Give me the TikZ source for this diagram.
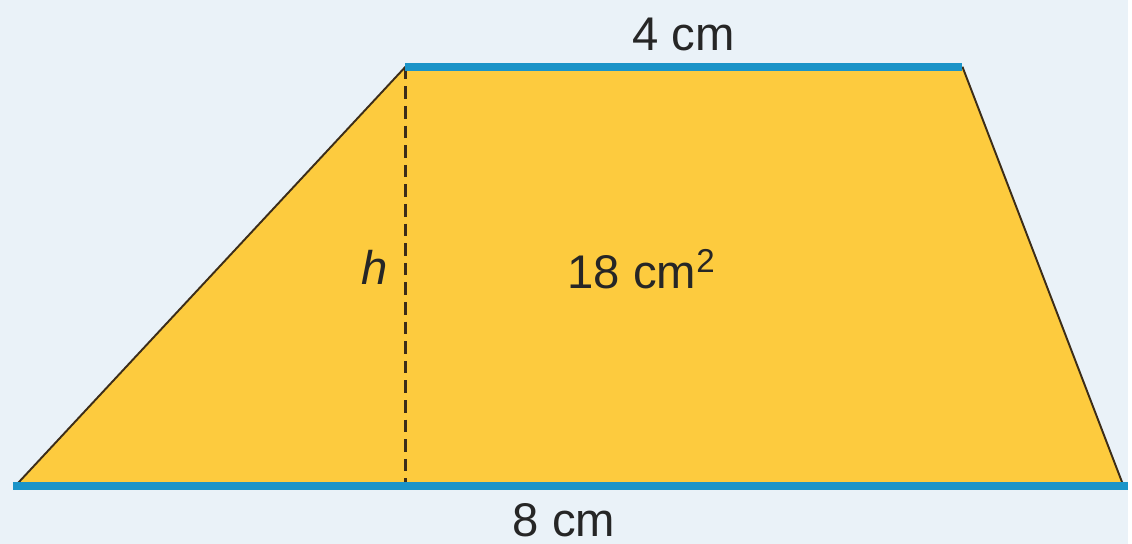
\documentclass[tikz,border=0pt]{standalone}
\usepackage{fontspec}
\setmainfont{Liberation Sans}
\usetikzlibrary{calc}

\definecolor{paper}{RGB}{234,242,248}
\definecolor{trapfill}{RGB}{253,203,62}
\definecolor{baseblue}{RGB}{27,148,200}
\definecolor{edgeink}{RGB}{60,45,25}

\begin{document}
\begin{tikzpicture}[
      x=0.02cm, y=-0.02cm,
      lbl/.style={font=\fontsize{27}{32}\selectfont, text=black!85, inner sep=0pt},
      side/.style={draw=edgeink, line width=1.1pt, line join=round},
      base/.style={draw=baseblue, line width=4.8pt},
      hline/.style={draw=edgeink, line width=1.3pt, dash pattern=on 7.2pt off 4pt}
    ]
    \fill[paper] (0,0) rectangle (1132,546);

    % corners of the trapezium
    \coordinate (bl) at (17,486);
    \coordinate (br) at (1127,486);
    \coordinate (tr) at (966,67);
    \coordinate (tl) at (407,67);
    \coordinate (foot) at (407,486);

    \fill[trapfill] (bl) -- (br) -- (tr) -- (tl) -- cycle;
    \draw[side] (bl) -- (tl);
    \draw[side] (tr) -- (br);
    \draw[hline] (tl) -- (foot);

    \coordinate (b0) at (13,488);
    \coordinate (b1) at (1132,488);
    \draw[base] (b0) -- (b1);
    \draw[base] (tl) -- (tr);

    \node[lbl] (toplen) at (686,35) {4 cm};
    \node[lbl] (botlen) at (566,522) {8 cm};
    \node[lbl, font=\fontsize{27}{32}\selectfont\itshape] (hlab) at (376,268) {h};
    \node[lbl] (area) at (644,270) {18 cm\textsuperscript{2}};
  \end{tikzpicture}
\end{document}
